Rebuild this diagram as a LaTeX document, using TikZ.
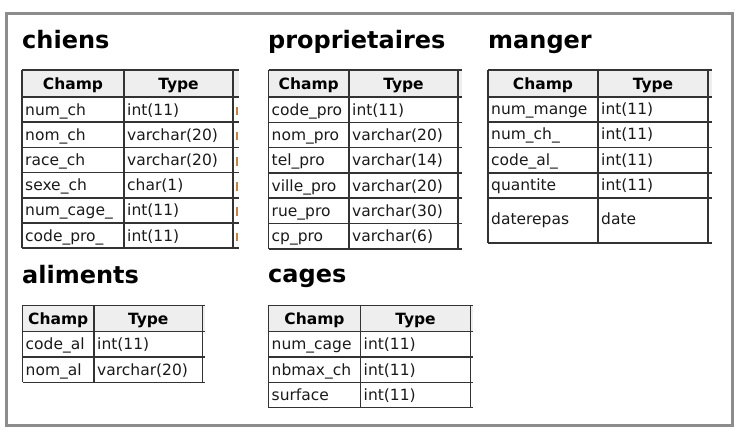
\documentclass[tikz,border=0pt]{standalone}
\usepackage{fontspec}
\setmainfont{DejaVu Sans}
\newfontfamily\boldface{DejaVu Sans Bold}
\definecolor{framegray}{HTML}{8C8C8C}
\definecolor{rulecol}{HTML}{333333}
\definecolor{headbg}{HTML}{EEEEEE}
\definecolor{ink}{HTML}{1A1A1A}
\definecolor{nullmark}{HTML}{C08448}
\newcommand\titlefont{\boldface\fontsize{24}{27}\selectfont}
\newcommand\cellfont{\fontsize{15.5}{18}\selectfont}
\newcommand\headfont{\boldface\fontsize{15.5}{18}\selectfont}
\tikzset{
  panel/.style={draw=framegray, line width=3pt},
  tabtitle/.style={font=\titlefont, anchor=base west, inner sep=0pt, text=black},
  cell/.style={font=\cellfont, anchor=base west, inner sep=0pt, text=ink},
  headcell/.style={font=\headfont, anchor=base, inner sep=0pt, text=black},
  rule/.style={draw=rulecol, line width=1.5pt},
  headband/.style={fill=headbg},
  nulltick/.style={fill=nullmark}
}
\begin{document}
\begin{tikzpicture}[x=1pt, y=-1pt]
\useasboundingbox (0,0) rectangle (750,430);
\fill[white] (0,0) rectangle (750,430);
\draw[panel] (6,14) rectangle (732,425);

% ---------- chiens ----------
\node[tabtitle] (chiens) at (22,49) {chiens};
\fill[headband] (22,70) rectangle (239,97);
\foreach \y in {70,97,122.2,147.4,172.6,197.8,223,248}
  \draw[rule] (22,\y) -- (239,\y);
\foreach \x in {22,124,233}
  \draw[rule] (\x,70) -- (\x,248);
\node[headcell] (chiens-h1) at (73,90) {Champ};
\node[headcell] (chiens-h2) at (178.5,90) {Type};
\foreach \f/\t [count=\i] in {num\_ch/int(11), nom\_ch/varchar(20),
    race\_ch/varchar(20), sexe\_ch/char(1), num\_cage\_/int(11),
    code\_pro\_/int(11)} {
  \pgfmathsetmacro\yb{97+\i*25.17-7}
  \node[cell] (chiens-f\i) at (25,\yb) {\f};
  \node[cell] (chiens-t\i) at (127,\yb) {\t};
  \fill[nulltick] (236,\yb) rectangle (238,\yb-8.5);
}

% ---------- proprietaires ----------
\node[tabtitle] (proprietaires) at (268,49) {proprietaires};
\fill[headband] (268.5,70) rectangle (462,97);
\foreach \y in {70,97,122.3,147.6,172.9,198.2,223.5,249}
  \draw[rule] (268.5,\y) -- (462,\y);
\foreach \x in {268.5,349,458}
  \draw[rule] (\x,70) -- (\x,249);
\node[headcell] (prop-h1) at (308.75,90) {Champ};
\node[headcell] (prop-h2) at (403.5,90) {Type};
\foreach \f/\t [count=\i] in {code\_pro/int(11), nom\_pro/varchar(20),
    tel\_pro/varchar(14), ville\_pro/varchar(20), rue\_pro/varchar(30),
    cp\_pro/varchar(6)} {
  \pgfmathsetmacro\yb{97+\i*25.3-7}
  \node[cell] (prop-f\i) at (271.5,\yb) {\f};
  \node[cell] (prop-t\i) at (352,\yb) {\t};
}

% ---------- manger ----------
\node[tabtitle] (manger) at (488,49) {manger};
\fill[headband] (488,70) rectangle (712,97);
\foreach \y in {70,97,122,147.5,173,198,243}
  \draw[rule] (488,\y) -- (712,\y);
\foreach \x in {488,598,708}
  \draw[rule] (\x,70) -- (\x,243);
\node[headcell] (manger-h1) at (543,90) {Champ};
\node[headcell] (manger-h2) at (653,90) {Type};
\foreach \f/\t/\yb [count=\i] in {num\_mange/int(11)/115, num\_ch\_/int(11)/140,
    code\_al\_/int(11)/165.5, quantite/int(11)/191} {
  \node[cell] (manger-f\i) at (491,\yb) {\f};
  \node[cell] (manger-t\i) at (601,\yb) {\t};
}
\node[cell] (manger-f5) at (491,224.5) {daterepas};
\node[cell] (manger-t5) at (601,224.5) {date};

% ---------- aliments ----------
\node[tabtitle] (aliments) at (22,284) {aliments};
\fill[headband] (22.5,305.5) rectangle (205,331.5);
\foreach \y in {305.5,331.5,357,382.5}
  \draw[rule] (22.5,\y) -- (205,\y);
\foreach \x in {22.5,94,202.5}
  \draw[rule] (\x,305.5) -- (\x,382.5);
\node[headcell] (aliments-h1) at (58.25,324.5) {Champ};
\node[headcell] (aliments-h2) at (148.25,324.5) {Type};
\foreach \f/\t/\yb [count=\i] in {code\_al/int(11)/350, nom\_al/varchar(20)/375.5} {
  \node[cell] (aliments-f\i) at (25.5,\yb) {\f};
  \node[cell] (aliments-t\i) at (97,\yb) {\t};
}

% ---------- cages ----------
\node[tabtitle] (cages) at (268,283) {cages};
\fill[headband] (268.5,305.5) rectangle (473,331.5);
\foreach \y in {305.5,331.5,357,382.5,407.5}
  \draw[rule] (268.5,\y) -- (473,\y);
\foreach \x in {268.5,360.5,470.5}
  \draw[rule] (\x,305.5) -- (\x,407.5);
\node[headcell] (cages-h1) at (314.5,324.5) {Champ};
\node[headcell] (cages-h2) at (415.5,324.5) {Type};
\foreach \f/\t/\yb [count=\i] in {num\_cage/int(11)/350, nbmax\_ch/int(11)/375.5,
    surface/int(11)/400.5} {
  \node[cell] (cages-f\i) at (271.5,\yb) {\f};
  \node[cell] (cages-t\i) at (363.5,\yb) {\t};
}
\end{tikzpicture}
\end{document}
